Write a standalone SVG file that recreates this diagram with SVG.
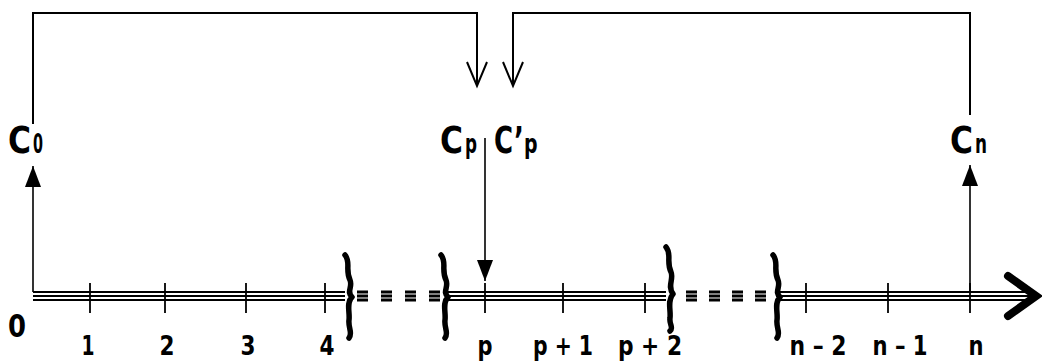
<svg xmlns="http://www.w3.org/2000/svg" width="1042" height="362" viewBox="0 0 1042 362">
<style>
  .ln{stroke:#000;stroke-width:2;fill:none}
  .thin{stroke:#000;stroke-width:1.6;fill:none}
  .tick{stroke:#000;stroke-width:1.8}
  .axis{stroke:#000;stroke-width:1.8}
  .dash{stroke:#000;stroke-width:2.8}
  .brace{stroke:#000;stroke-width:5.5;fill:none;stroke-linecap:round;stroke-linejoin:round}
  .lab{font-family:"DejaVu Sans Condensed","DejaVu Sans","Liberation Sans",sans-serif;font-stretch:condensed;font-weight:bold;fill:#000}
  .big{font-size:37px}
  .sub{font-size:27px}
  .num{font-size:26px;text-anchor:middle}
</style>
<defs>
  <marker id="fill" markerWidth="22" markerHeight="16" refX="21" refY="8" orient="auto" markerUnits="userSpaceOnUse" viewBox="0 0 22 16">
    <path d="M0,0 L21,8 L0,16 Z" fill="#000"/>
  </marker>
  <marker id="open" markerWidth="28" markerHeight="24" refX="25" refY="12" orient="auto" markerUnits="userSpaceOnUse" viewBox="0 0 28 24">
    <path d="M1,2 L25,12 L1,22" fill="none" stroke="#000" stroke-width="2"/>
  </marker>
</defs>

<g id="axis">
  <g class="axis">
    <line x1="33" y1="292" x2="345" y2="292"/>
    <line x1="33" y1="296" x2="345" y2="296"/>
    <line x1="33" y1="300" x2="345" y2="300"/>
    <line x1="445" y1="292" x2="666" y2="292"/>
    <line x1="445" y1="296" x2="666" y2="296"/>
    <line x1="445" y1="300" x2="666" y2="300"/>
    <line x1="776" y1="292" x2="1034" y2="292"/>
    <line x1="776" y1="296" x2="1034" y2="296"/>
    <line x1="776" y1="300" x2="1034" y2="300"/>
  </g>
  <g class="dash">
    <path d="M357,292h11M357,296h11M357,300h11 M381,292h11M381,296h11M381,300h11 M405,292h11M405,296h11M405,300h11 M429,292h11M429,296h11M429,300h11"/>
    <path d="M686,292h11M686,296h11M686,300h11 M709,292h11M709,296h11M709,300h11 M732,292h11M732,296h11M732,300h11 M755,292h11M755,296h11M755,300h11"/>
  </g>
  <path d="M1008,276 L1036,296 L1008,316" fill="none" stroke="#000" stroke-width="8" stroke-linecap="round" stroke-linejoin="miter"/>
  <g class="tick">
    <line x1="90" y1="283" x2="90" y2="313"/>
    <line x1="165" y1="283" x2="165" y2="313"/>
    <line x1="246" y1="283" x2="246" y2="313"/>
    <line x1="325" y1="283" x2="325" y2="313"/>
    <line x1="485" y1="283" x2="485" y2="313"/>
    <line x1="563" y1="283" x2="563" y2="313"/>
    <line x1="645" y1="283" x2="645" y2="313"/>
    <line x1="806" y1="283" x2="806" y2="313"/>
    <line x1="888" y1="283" x2="888" y2="313"/>
    <line x1="970" y1="283" x2="970" y2="313"/>
  </g>
  <g class="brace">
    <path d="M345,255 C351,262 345,270 350,280 C353,287 346,292 352,297 C346,303 350,312 349,320 C348,328 353,333 349,338"/>
    <path d="M441,255 C447,262 441,270 446,280 C449,287 442,292 448,297 C442,303 446,312 445,320 C444,328 449,333 445,338"/>
    <path d="M666,247 C672,254 666,262 671,272 C674,279 667,286 673,294 C667,301 671,310 670,318 C669,324 674,328 670,331"/>
    <path d="M773,255 C779,262 773,270 778,280 C781,287 774,292 780,297 C774,303 778,312 777,320 C776,328 781,333 777,338"/>
  </g>
</g>

<g id="connectors">
  <path class="ln" d="M33,124 V13 H477 V86" marker-end="url(#open)"/>
  <path class="ln" d="M970,115 V13 H513 V86" marker-end="url(#open)"/>
  <line class="thin" x1="33" y1="292" x2="33" y2="166" marker-end="url(#fill)"/>
  <line class="thin" x1="970" y1="292" x2="970" y2="165" marker-end="url(#fill)"/>
  <line class="thin" x1="485" y1="138" x2="485" y2="281" marker-end="url(#fill)"/>
</g>

<g id="node-c0">
  <text class="lab big" x="8" y="153" textLength="23" lengthAdjust="spacingAndGlyphs">C</text>
  <text class="lab sub" x="33" y="153" textLength="10" lengthAdjust="spacingAndGlyphs">0</text>
</g>
<g id="node-cp">
  <text class="lab big" x="440" y="153" textLength="23" lengthAdjust="spacingAndGlyphs">C</text>
  <text class="lab sub" x="465" y="153" textLength="12" lengthAdjust="spacingAndGlyphs">p</text>
</g>
<g id="node-cpp" transform="translate(494,153) scale(0.78,1)">
  <text class="lab" x="0" y="0"><tspan class="big">C’</tspan><tspan class="sub">p</tspan></text>
</g>
<g id="node-cn">
  <text class="lab big" x="950" y="153" textLength="23" lengthAdjust="spacingAndGlyphs">C</text>
  <text class="lab sub" x="975" y="153" textLength="12" lengthAdjust="spacingAndGlyphs">n</text>
</g>

<g id="labels" class="lab num">
  <text x="17" y="337" style="font-size:32px" textLength="18" lengthAdjust="spacingAndGlyphs">0</text>
  <text x="88" y="355" textLength="13" lengthAdjust="spacingAndGlyphs">1</text>
  <text x="167" y="355" textLength="15" lengthAdjust="spacingAndGlyphs">2</text>
  <text x="248" y="355" textLength="15" lengthAdjust="spacingAndGlyphs">3</text>
  <text x="327" y="355" textLength="15" lengthAdjust="spacingAndGlyphs">4</text>
  <text x="485" y="355" textLength="15" lengthAdjust="spacingAndGlyphs">p</text>
  <text x="563" y="355" textLength="60" lengthAdjust="spacingAndGlyphs">p + 1</text>
  <text x="650" y="355" textLength="64" lengthAdjust="spacingAndGlyphs">p + 2</text>
  <text x="818" y="355" textLength="57" lengthAdjust="spacingAndGlyphs">n – 2</text>
  <text x="900" y="355" textLength="55" lengthAdjust="spacingAndGlyphs">n – 1</text>
  <text x="976" y="355" textLength="15" lengthAdjust="spacingAndGlyphs">n</text>
</g>
</svg>
